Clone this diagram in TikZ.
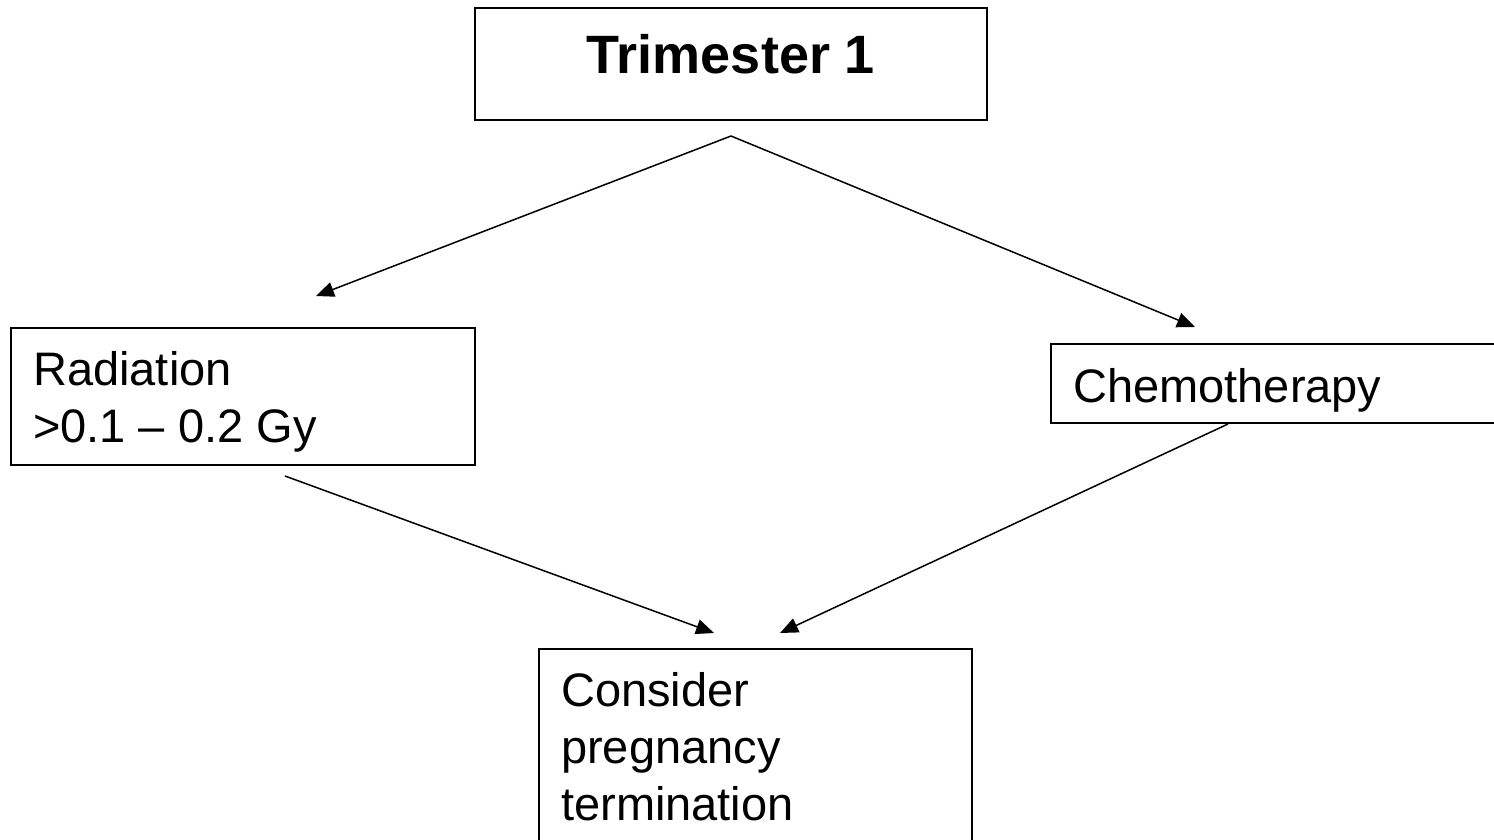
\documentclass[tikz,border=0pt]{standalone}
\usepackage{fontspec}
\setmainfont{Liberation Sans}
\usetikzlibrary{arrows.meta}

\begin{document}
\begin{tikzpicture}[x=1pt,y=-1pt]
   \tikzstyle{box}=[draw,line width=1.7pt,inner sep=0pt]
   \tikzstyle{txt}=[inner sep=0pt,align=left,font=\fontsize{47}{57}\selectfont]
   \tikzstyle{ar}=[line width=1.5pt,-{Triangle[length=18pt,width=15pt]}]

   \clip (0,0) rectangle (1494,839);
   \fill[white] (0,0) rectangle (1494,839);

   % boxes
   \node (tri) [box,minimum width=512pt,minimum height=112pt] at (731,64) {};
   \node (rad) [box,minimum width=464pt,minimum height=137pt] at (243,396.5) {};
   \node (chemo) [box,minimum width=464pt,minimum height=79pt] at (1283,383.5) {};
   \node (cons) [box,minimum width=433pt,minimum height=220pt] at (755.5,759) {};

   % texts
   \node (tritxt) [txt,font=\bfseries\fontsize{54}{62}\selectfont,anchor=base] at (731,73) {Trimester 1};
   \node (radtxt) [txt,anchor=north west] at (33,345) {\strut Radiation\\\strut >0.1 – 0.2 Gy};
   \node (chemotxt) [txt,anchor=base west] at (1073,402) {Chemotherapy};
   \node (constxt) [txt,anchor=north west] at (561,666) {\strut Consider\\\strut pregnancy\\\strut termination};

   % arrow ends
   \coordinate (fork) at (731,136);
   \coordinate (radin) at (316,296);
   \coordinate (chemoin) at (1195,327);
   \coordinate (radout) at (285,476);
   \coordinate (chemoout) at (1228,424);
   \coordinate (consl) at (714,633);
   \coordinate (consr) at (780,633);

   \draw [ar] (fork) -- (radin);
   \draw [ar] (fork) -- (chemoin);
   \draw [ar] (radout) -- (consl);
   \draw [ar] (chemoout) -- (consr);
\end{tikzpicture}
\end{document}
